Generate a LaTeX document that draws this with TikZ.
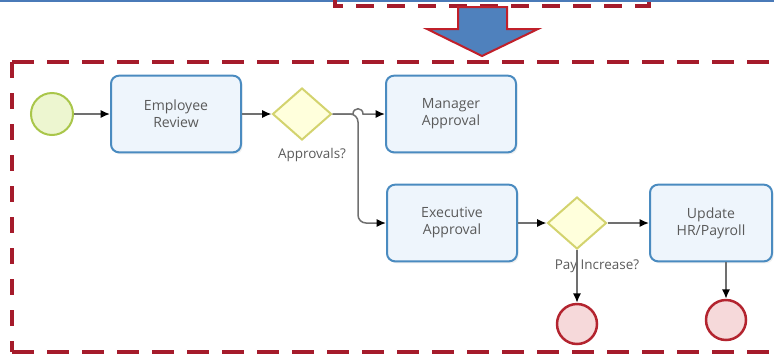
\documentclass[tikz,border=0pt]{standalone}
\usepackage{fontspec}
\setmainfont{Open Sans}
\usepackage{tikz}
\usetikzlibrary{shapes.geometric,arrows.meta,shadows}

\definecolor{taskline}{HTML}{4A8BC0}
\definecolor{taskfill}{HTML}{EEF5FC}
\definecolor{startline}{HTML}{A9C64A}
\definecolor{startfill}{HTML}{EDF6D0}
\definecolor{gateline}{HTML}{D3D36E}
\definecolor{gatefill}{HTML}{FFFFDC}
\definecolor{endline}{HTML}{B3242F}
\definecolor{endfill}{HTML}{F6D9DA}
\definecolor{dashred}{HTML}{A51B2B}
\definecolor{arrowfill}{HTML}{4F81BD}
\definecolor{arrowline}{HTML}{C0202A}
\definecolor{toplinecol}{HTML}{4A7AB8}
\definecolor{flowgray}{HTML}{707070}
\definecolor{txtgray}{HTML}{5A5A5A}

\tikzset{
task/.style={draw=taskline,fill=taskfill,rounded corners=2.4mm,line width=0.6mm,
  minimum width=39mm,minimum height=23mm,align=center,text=txtgray,
  font=\fontsize{12}{14.5}\selectfont,
  drop shadow={opacity=0.12,shadow xshift=0.5mm,shadow yshift=-0.6mm}},
gate/.style={diamond,draw=gateline,fill=gatefill,line width=0.6mm,
  minimum width=17.7mm,minimum height=15.6mm,inner sep=0pt},
startev/.style={circle,draw=startline,fill=startfill,line width=0.6mm,minimum size=12.6mm,inner sep=0pt},
endev/.style={circle,draw=endline,fill=endfill,line width=0.75mm,minimum size=12mm,inner sep=0pt},
lbl/.style={text=txtgray,font=\fontsize{11.5}{13}\selectfont,inner sep=1pt},
flow/.style={draw=flowgray,line width=0.45mm,->,>={Latex[length=2.8mm,width=2.4mm,color=black]}},
redbox/.style={draw=dashred,line width=1.2mm,dash pattern=on 6.6mm off 3.9mm},
}

\begin{document}
\begin{tikzpicture}[x=0.3mm,y=-0.3mm]
\useasboundingbox (0,0) rectangle (774,353);
\clip (0,0) rectangle (774,353);
% box above and arrow down
\draw[toplinecol,line width=0.7mm] (0,1) -- (774,1);
\draw[redbox,dash pattern=on 5.4mm off 3.9mm] (335,-4) -- (335,6) -- (649,6) -- (649,-4);
\draw[fill=arrowfill,draw=arrowline,line width=0.6mm,line join=miter]
(458,7) -- (507,7) -- (507,29) -- (538,29) -- (482,56) -- (427,29) -- (458,29) -- cycle;
% dashed frame
\draw[redbox,dash pattern=on 4.8mm off 4.5mm] (12,62) -- (12,352);
\draw[redbox] (12,62) -- (800,62);
\draw[redbox] (12,352) -- (800,352);

\node [startev] (start) at (52,114){};
\node [task] (review) at (176,114){Employee\\Review};
\node [gate] (gwapp) at (302,114){};
\node [lbl] (lblapp) at (312,155){Approvals?};
\node [task] (manager) at (451,114){Manager\\Approval};
\node [task] (exec) at (452,223){Executive\\Approval};
\node [gate] (gwpay) at (577,223){};
\node [lbl] (lblpay) at (597,266){Pay Increase?};
\node [task,minimum width=36.6mm] (update) at (711,223){Update\\HR/Payroll};
\node [endev] (endpay) at (577,324){};
\node [endev] (endupd) at (726,320){};

\draw[flow] (start)--(review);
\draw[flow] (review)--(gwapp);
\draw[flow] (gwapp.east)--(353,114) .. controls (353,107) and (363,107) .. (363,114)--(manager.west);
\draw[flow,rounded corners=2.4mm] (gwapp.east)--(358,114)--(358,223)--(exec.west);
\draw[flow] (exec)--(gwpay);
\draw[flow] (gwpay)--(update);
\draw[flow] (gwpay.south)--(endpay);
\draw[flow] (endupd |- update.south)--(endupd);
\end{tikzpicture}
\end{document}
